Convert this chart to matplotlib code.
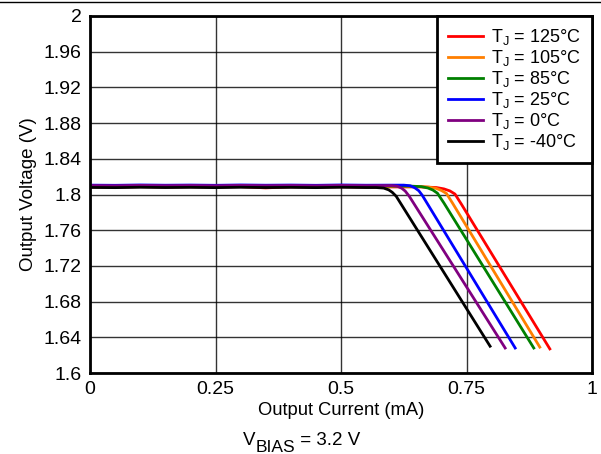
import matplotlib
matplotlib.use("Agg")
import matplotlib.pyplot as plt
from matplotlib.lines import Line2D
from matplotlib.text import Annotation

plt.rcParams['font.family'] = ['Liberation Sans', 'DejaVu Sans']
plt.rcParams['mathtext.fontset'] = 'custom'
plt.rcParams['mathtext.rm'] = 'Liberation Sans'
plt.rcParams['mathtext.it'] = 'Liberation Sans'
plt.rcParams['mathtext.default'] = 'regular'

labels = ["$T_J$ = 125°C", "$T_J$ = 105°C", "$T_J$ = 85°C",
          "$T_J$ = 25°C", "$T_J$ = 0°C", "$T_J$ = -40°C"]
colors = ["#ff0000", "#ff7f00", "#008000", "#0000ff", "#800080", "#000000"]

flat_x = [0, 0.05, 0.1, 0.15, 0.2, 0.25, 0.3, 0.35, 0.4, 0.45, 0.5, 0.55]

red_x = flat_x + [0.60, 0.66, 0.69, 0.705, 0.717, 0.727, 0.74, 0.916]
red_y = [1.8085, 1.8082, 1.8088, 1.8083, 1.8087, 1.8084, 1.8088, 1.8074, 1.8086, 1.8083, 1.8087, 1.8082,
         1.8085, 1.8085, 1.8078, 1.8063, 1.804, 1.8005, 1.789, 1.627]

orange_x = flat_x + [0.60, 0.65, 0.675, 0.69, 0.70, 0.71, 0.722, 0.896]
orange_y = [1.809, 1.8088, 1.8092, 1.8089, 1.8091, 1.8088, 1.8092, 1.8089, 1.8091, 1.8088, 1.8092, 1.8089,
            1.809, 1.809, 1.8083, 1.8068, 1.8045, 1.8012, 1.7905, 1.629]

green_x = flat_x + [0.60, 0.635, 0.66, 0.673, 0.683, 0.692, 0.705, 0.884]
green_y = [1.8095, 1.8093, 1.8097, 1.8094, 1.8096, 1.8093, 1.8097, 1.8094, 1.8096, 1.8093, 1.8097, 1.8094,
           1.8095, 1.8095, 1.8088, 1.8073, 1.805, 1.8015, 1.7905, 1.628]

blue_x = flat_x + [0.60, 0.625, 0.638, 0.647, 0.655, 0.662, 0.847]
blue_y = [1.8105, 1.8103, 1.8107, 1.8104, 1.8106, 1.8103, 1.8107, 1.8104, 1.8106, 1.8103, 1.8107, 1.8104,
          1.8105, 1.8105, 1.8098, 1.8075, 1.8042, 1.799, 1.628]

purple_x = flat_x + [0.60, 0.612, 0.621, 0.628, 0.636, 0.827]
purple_y = [1.810, 1.8098, 1.8102, 1.8099, 1.8101, 1.8098, 1.8102, 1.8099, 1.8101, 1.8098, 1.8102, 1.8099,
            1.810, 1.8093, 1.807, 1.8038, 1.798, 1.628]

black_x = flat_x + [0.57, 0.585, 0.595, 0.602, 0.61, 0.797]
black_y = [1.8079, 1.8077, 1.8081, 1.8078, 1.8080, 1.8077, 1.8081, 1.8078, 1.8080, 1.8077, 1.8081, 1.8078,
           1.8078, 1.8072, 1.8052, 1.8025, 1.798, 1.630]

series_x = [red_x, orange_x, green_x, blue_x, purple_x, black_x]
series_y = [red_y, orange_y, green_y, blue_y, purple_y, black_y]

x_ticks = [0, 0.25, 0.5, 0.75, 1]
x_tick_labels = ["0", "0.25", "0.5", "0.75", "1"]
y_ticks = [1.6, 1.64, 1.68, 1.72, 1.76, 1.8, 1.84, 1.88, 1.92, 1.96, 2.0]
y_tick_labels = ["1.6", "1.64", "1.68", "1.72", "1.76", "1.8", "1.84", "1.88", "1.92", "1.96", "2"]

FS = 13

fig = plt.figure(figsize=(6.01, 4.54), dpi=100)
ax = fig.add_axes([90/601, 1-373/454, (592-90)/601, (373-16)/454])

for xs, ys, c, lab in zip(series_x, series_y, colors, labels):
    ax.plot(xs, ys, color=c, lw=2, label=lab, zorder=3)

ax.set_xlim(0, 1)
ax.set_ylim(1.6, 2.0)
ax.set_xticks(x_ticks)
ax.set_xticklabels(x_tick_labels)
ax.set_yticks(y_ticks)
ax.set_yticklabels(y_tick_labels)
ax.tick_params(length=0, labelsize=14)
ax.tick_params(axis='x', pad=6)
ax.tick_params(axis='y', pad=6)
ax.grid(True, color="#000000", lw=1, alpha=0.8)
for s in ax.spines.values():
    s.set_linewidth(2)
    s.set_zorder(5)

ax.set_xlabel("Output Current (mA)", fontsize=13.2, labelpad=3)
ax.set_ylabel("Output Voltage (V)", fontsize=13.5, labelpad=5)

# V_BIAS caption built from pieces so that the subscript is nearly full size
t1 = fig.text(243/601, 1-445/454, "V", fontsize=13.5, ha="left", va="baseline")
t2 = fig.add_artist(Annotation(
    "BIAS", xy=(1, 0), xycoords=t1, xytext=(0, -4), textcoords="offset points",
    fontsize=12.5, ha="left", va="bottom"))
t3 = fig.add_artist(Annotation(
    " = 3.2 V", xy=(1, 0), xycoords=(t2, t1), xytext=(0, 0), textcoords="offset points",
    fontsize=13.5, ha="left", va="bottom"))

leg = ax.legend(loc="upper right", fontsize=FS, frameon=True, fancybox=False,
                borderaxespad=0, handlelength=1.95, labelspacing=0.06,
                borderpad=0.6, handletextpad=0.45)
leg.get_frame().set_edgecolor("black")
leg.get_frame().set_linewidth(2)
leg.get_frame().set_alpha(1)
leg.set_zorder(6)

fig.add_artist(Line2D([0, 1], [1-2/454, 1-2/454], color="black", lw=1, transform=fig.transFigure))

fig.savefig("out.png", dpi=100)
